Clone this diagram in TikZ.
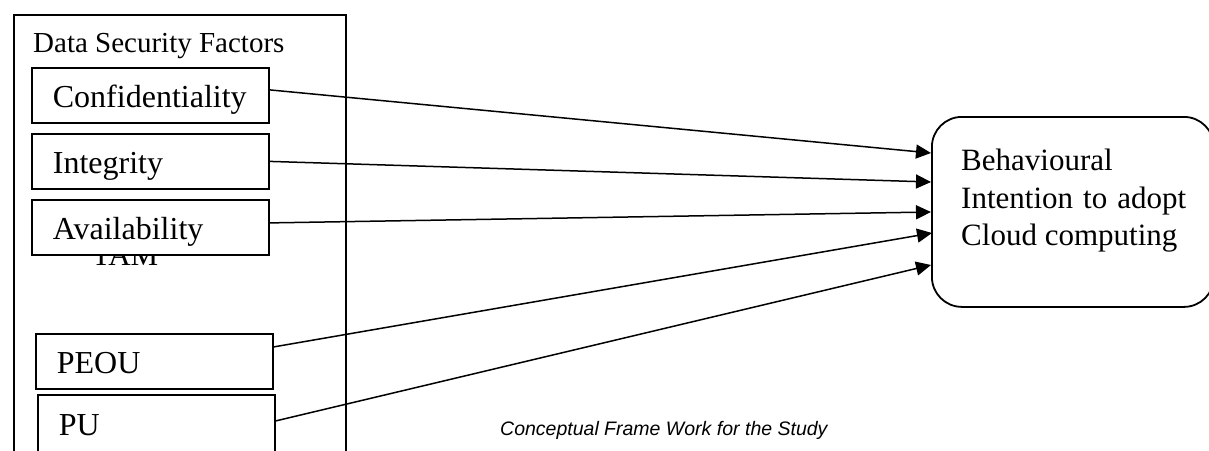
\documentclass[tikz,border=0pt]{standalone}
\usepackage{fontspec}
\setmainfont{Liberation Serif}
\setsansfont{Liberation Sans}
\usetikzlibrary{arrows.meta,positioning}

\begin{document}
\begin{tikzpicture}[
                x=1pt, y=-1pt,
                fac/.style={draw, line width=1.8pt, fill=white, anchor=north west, minimum width=237pt, minimum height=55pt, text width=195pt, inner xsep=21pt, align=left, text height=24pt, text depth=0pt, font=\fontsize{32pt}{37pt}\selectfont},
                lab/.style={inner sep=0pt, font=\fontsize{31pt}{37.5pt}\selectfont},
                arr/.style={line width=1.5pt, -{Triangle[length=15pt,width=14pt]}}
            ]

                \useasboundingbox (0,0) rectangle (1209,450);
                \clip (0,0) rectangle (1209,450);

% frame
                \node[draw, line width=1.5pt, anchor=north west, minimum width=332pt, minimum height=450pt, inner sep=0pt] (frame) at (13,14) {};
                \node[lab, anchor=base west, font=\fontsize{29pt}{34pt}\selectfont] (dsf) at (33,52) {Data Security Factors};
                \node[lab, anchor=base] (tam) at (125,265) {TAM};

% factors
                \node[fac] (conf) at (31,67) {Confidentiality};
                \node[fac] (integ) at (31,133) {Integrity};
                \node[fac] (avail) at (31,199) {Availability};
                \node[fac] (peou) at (35,333) {PEOU};
                \node[fac, minimum height=58pt] (pu) at (37,394) {PU};

% intention
                \node[draw, line width=1.8pt, rounded corners=30pt, anchor=north west, minimum width=282pt, minimum height=190pt] (beh) at (931,116) {};
                \node[lab, anchor=north west, align=left] (behtxt) at (961,149) {Behavioural\\Intention\hspace{10pt}to\hspace{10pt}adopt\\Cloud computing};

                \coordinate (in1) at (931,153);
                \coordinate (in2) at (931,182);
                \coordinate (in3) at (931,212);
                \coordinate (in4) at (932,233);
                \coordinate (in5) at (931,265);

% arrows
                \draw[arr] ([yshift=5.5pt]conf.east) -- (in1);
                \draw[arr] (integ.east) -- (in2);
                \draw[arr] ([yshift=4.5pt]avail.east) -- (in3);
                \draw[arr] ([yshift=14.5pt]peou.east) -- (in4);
                \draw[arr] ([yshift=3pt]pu.east) -- (in5);

% caption
                \node[inner sep=0pt, anchor=base west, font=\sffamily\itshape\fontsize{19.5pt}{23pt}\selectfont] (cap) at (500,435) {Conceptual Frame Work for the Study};

            \end{tikzpicture}
\end{document}
